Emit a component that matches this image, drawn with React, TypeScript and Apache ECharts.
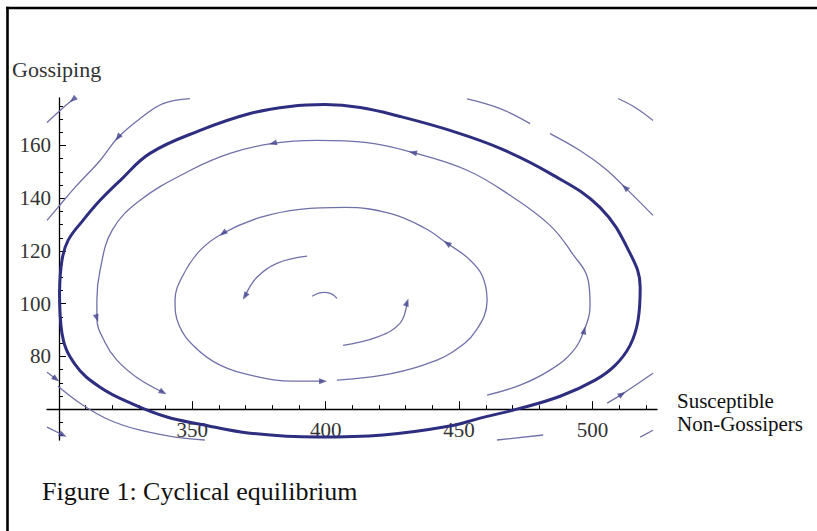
import React, { useEffect, useRef } from "react";
import * as echarts from "echarts";

// ---------- axes ----------
const xRange = [295.5, 524.2];
const yRange = [48.3, 178];
const axesOrigin = [300, 60];
const xLabelTicks = [350, 400, 450, 500];
const xMinorTicks = [310, 320, 330, 340, 360, 370, 380, 390, 410, 420, 430, 440, 460, 470, 480, 490, 510, 520];
const yLabelTicks = [80, 100, 120, 140, 160];
const yMinorTicks = [50, 55, 65, 70, 75, 85, 90, 95, 105, 110, 115, 125, 130, 135, 145, 150, 155, 165, 170, 175];

// ---------- texts ----------
const yAxisTitle = "Gossiping";
const xAxisTitle = ["Susceptible", "Non-Gossipers"];
const caption = "Figure 1: Cyclical equilibrium";

// ---------- curves (data coords, in flow direction) ----------
const limitCycle = [
  [300.2, 104.3], [301.1, 88.8], [306.0, 77.0], [315.4, 68.3], [327.7, 61.9], [340.5, 57.0],
  [352.9, 54.3], [371.6, 50.9], [396.7, 49.4], [421.5, 50.2], [446.6, 53.6], [457.9, 56.6],
  [471.7, 60.0], [487.9, 64.9], [501.0, 71.0], [508.5, 76.6], [514.1, 84.2], [517.1, 93.7],
  [517.9, 106.2], [514.1, 119.1], [502.8, 136.5], [484.1, 149.4], [465.4, 158.9], [446.6, 165.7],
  [427.9, 171.0], [412.9, 174.4], [399.7, 175.5], [386.6, 174.8], [371.6, 172.1], [352.9, 165.7],
  [334.1, 157.0], [322.9, 146.7], [315.4, 139.2], [309.0, 131.6], [303.4, 124.0], [301.1, 116.4],
  [300.2, 104.3],
];

const ring2 = [
  [460.5, 65.3], [472.9, 69.1], [484.1, 74.8], [492.4, 81.6], [496.9, 89.9], [499.1, 99.4],
  [498.4, 108.9], [492.4, 119.1], [484.1, 129.7], [469.1, 141.1], [453.0, 150.6], [432.7, 157.3],
  [415.5, 161.1], [396.7, 161.9], [380.2, 160.8], [364.1, 157.0], [349.1, 150.5], [330.4, 139.2],
  [319.9, 127.8], [315.4, 112.7], [314.2, 101.3], [314.2, 94.5], [317.2, 85.4], [321.7, 78.6],
  [329.6, 71.7], [339.0, 66.4],
];
const ring2Arrows = [4, 11, 14, 21, 25];

const ring3 = [
  [404.2, 71.0], [421.5, 72.9], [435.4, 76.3], [447.4, 81.6], [456.4, 89.9], [460.5, 101.3],
  [458.6, 110.8], [453.4, 117.2], [445.5, 122.9], [437.2, 128.6], [424.1, 134.2], [407.2, 136.5],
  [390.4, 135.8], [375.4, 132.7], [361.5, 126.7], [352.9, 120.2], [346.5, 110.8], [343.5, 101.3],
  [345.0, 91.8], [351.0, 83.5], [360.4, 76.7], [373.5, 72.5], [387.4, 70.6], [399.0, 70.6],
];
const ring3Arrows = [8, 14, 23];

const spiralA = [[393.0, 118.0], [381.7, 115.3], [374.2, 110.0], [369.7, 102.8]];
const spiralAArrows = [3];
const spiralB = [[404.2, 102.0], [402.4, 103.6], [399.7, 104.3], [397.1, 103.9], [394.9, 102.8]];
const spiralC = [[406.5, 84.2], [419.2, 87.3], [427.9, 92.6], [430.5, 100.5]];
const spiralCArrows = [3];

const outer1 = [[349.1, 177.8], [339.0, 175.9], [330.4, 170.2], [322.1, 163.0], [315.4, 154.3], [306.0, 144.1], [299.6, 136.5], [295.5, 131.6]];
const outer1Arrows = [3];
const outer2 = [[305.2, 177.4], [300.4, 173.3], [295.5, 168.7]];
const outer2Arrows = [0];
const outer3 = [[476.6, 168.3], [465.4, 174.0], [453.0, 177.7]];
const outer4 = [[522.7, 169.5], [516.0, 174.4], [509.6, 177.8]];
const outer5 = [[522.7, 133.5], [512.2, 144.1], [504.7, 151.3], [495.3, 158.1], [484.1, 164.5]];
const outer5Arrows = [1];
const outer6 = [[505.5, 62.3], [511.1, 65.7], [522.7, 73.6]];
const outer6Arrows = [1];
const outer7 = [[464.2, 48.3], [481.5, 50.2]];
const outer8 = [[517.9, 49.4], [522.7, 52.0]];
const outer9 = [[295.5, 74.0], [298.9, 71.4]];
const outer9Arrows = [1];
const outer10 = [[299.6, 68.7], [309.0, 61.5], [319.1, 55.8], [330.4, 52.0], [343.5, 49.4], [354.7, 48.3]];
const outer11 = [[295.5, 53.2], [301.5, 50.2]];
const outer11Arrows = [1];

const streamlines = [
  { points: ring2, arrows: ring2Arrows },
  { points: ring3, arrows: ring3Arrows },
  { points: spiralA, arrows: spiralAArrows },
  { points: spiralB, arrows: [] as number[] },
  { points: spiralC, arrows: spiralCArrows },
  { points: outer1, arrows: outer1Arrows },
  { points: outer2, arrows: outer2Arrows },
  { points: outer3, arrows: [] as number[] },
  { points: outer4, arrows: [] as number[] },
  { points: outer5, arrows: outer5Arrows },
  { points: outer6, arrows: outer6Arrows },
  { points: outer7, arrows: [] as number[] },
  { points: outer8, arrows: [] as number[] },
  { points: outer9, arrows: outer9Arrows },
  { points: outer10, arrows: [] as number[] },
  { points: outer11, arrows: outer11Arrows },
];

const SERIF = "'Liberation Serif', 'Times New Roman', serif";
const THICK = "#2e2e80";
const THIN = "#7070aa";
const ARROW = "#45458f";

function buildOption(xOffset: number, yOffset: number, arrows: any[]) {
  const tickStyle = { color: "#000", width: 1 };
  const lineSeries: any[] = [
    {
      type: "line",
      data: limitCycle,
      showSymbol: false,
      smooth: 0.4,
      clip: false,
      silent: true,
      lineStyle: { color: THICK, width: 3 },
      z: 4,
    },
    ...streamlines.map((s) => ({
      type: "line",
      data: s.points,
      showSymbol: false,
      smooth: 0.4,
      clip: false,
      silent: true,
      lineStyle: { color: THIN, width: 1.3 },
      z: 3,
    })),
  ];
  return {
    animation: false,
    backgroundColor: "#fff",
    grid: { left: 47, right: 160, top: 98, bottom: 91 },
    xAxis: [
      {
        type: "value",
        min: xRange[0],
        max: xRange[1],
        position: "bottom",
        offset: xOffset,
        axisLine: { show: true, onZero: false, lineStyle: { color: "#000", width: 1.3 } },
        axisTick: { show: true, inside: true, length: 8, customValues: xLabelTicks, lineStyle: tickStyle },
        axisLabel: { show: true, customValues: xLabelTicks, margin: 10, fontFamily: SERIF, fontSize: 21, color: "#333" },
        splitLine: { show: false },
      },
      {
        type: "value",
        min: xRange[0],
        max: xRange[1],
        position: "bottom",
        offset: xOffset,
        axisLine: { show: false, onZero: false },
        axisTick: { show: true, inside: true, length: 4, customValues: xMinorTicks, lineStyle: tickStyle },
        axisLabel: { show: false },
        splitLine: { show: false },
      },
    ],
    yAxis: [
      {
        type: "value",
        min: yRange[0],
        max: yRange[1],
        position: "left",
        offset: yOffset,
        axisLine: { show: true, onZero: false, lineStyle: { color: "#000", width: 1.3 } },
        axisTick: { show: true, inside: true, length: 7, customValues: yLabelTicks, lineStyle: tickStyle },
        axisLabel: { show: true, customValues: yLabelTicks, margin: 8, fontFamily: SERIF, fontSize: 21, color: "#333" },
        splitLine: { show: false },
      },
      {
        type: "value",
        min: yRange[0],
        max: yRange[1],
        position: "left",
        offset: yOffset,
        axisLine: { show: false, onZero: false },
        axisTick: { show: true, inside: true, length: 4, customValues: yMinorTicks, lineStyle: tickStyle },
        axisLabel: { show: false },
        splitLine: { show: false },
      },
    ],
    series: [
      ...lineSeries,
      {
        type: "scatter",
        data: arrows,
        symbol: "triangle",
        symbolSize: [6, 8],
        silent: true,
        clip: false,
        itemStyle: { color: ARROW },
        z: 6,
      },
    ],
    graphic: [
      { type: "line", silent: true, shape: { x1: 6, y1: 8, x2: 817, y2: 8 }, style: { stroke: "#000", lineWidth: 2.6 } },
      { type: "line", silent: true, shape: { x1: 7.5, y1: 6.7, x2: 7.5, y2: 531 }, style: { stroke: "#000", lineWidth: 2.6 } },
      {
        type: "text", silent: true, x: 12, y: 69,
        style: { text: yAxisTitle, fontFamily: SERIF, fontSize: 22, fill: "#333", verticalAlign: "middle", textVerticalAlign: "middle" },
      },
      {
        type: "text", silent: true, x: 677, y: 401,
        style: { text: xAxisTitle[0], fontFamily: SERIF, fontSize: 21, fill: "#111", verticalAlign: "middle", textVerticalAlign: "middle" },
      },
      {
        type: "text", silent: true, x: 677, y: 424,
        style: { text: xAxisTitle[1], fontFamily: SERIF, fontSize: 21, fill: "#111", verticalAlign: "middle", textVerticalAlign: "middle" },
      },
      {
        type: "text", silent: true, x: 42, y: 491,
        style: { text: caption, fontFamily: SERIF, fontSize: 26, fill: "#111", verticalAlign: "middle", textVerticalAlign: "middle" },
      },
    ],
  };
}

export default function App() {
  const ref = useRef<HTMLDivElement>(null);
  useEffect(() => {
    const el = ref.current;
    if (!el) return;
    const chart = echarts.init(el, null, { renderer: "svg" });
    chart.setOption(buildOption(0, 0, []));
    const toPx = (p: number[]) => chart.convertToPixel({ xAxisIndex: 0, yAxisIndex: 0 }, p) as unknown as number[];
    const o = toPx(axesOrigin);
    const lo = toPx([xRange[0], yRange[0]]);
    const yOffset = -(o[0] - lo[0]);
    const xOffset = -(lo[1] - o[1]);
    const arrows: any[] = [];
    streamlines.forEach((s) => {
      s.arrows.forEach((i) => {
        const n = s.points.length;
        const a = i < n - 1 ? s.points[i] : s.points[i - 1];
        const b = i < n - 1 ? s.points[i + 1] : s.points[i];
        const pa = toPx(a);
        const pb = toPx(b);
        const ang = (Math.atan2(-(pb[1] - pa[1]), pb[0] - pa[0]) * 180) / Math.PI;
        arrows.push({ value: s.points[i], symbolRotate: ang - 90 });
      });
    });
    chart.setOption(buildOption(xOffset, yOffset, arrows), { notMerge: true });
    return () => chart.dispose();
  }, []);
  return (
    <div
      ref={ref}
      style={{ position: "absolute", left: 0, top: 0, width: 817, height: 531, background: "#fff" }}
    />
  );
}
